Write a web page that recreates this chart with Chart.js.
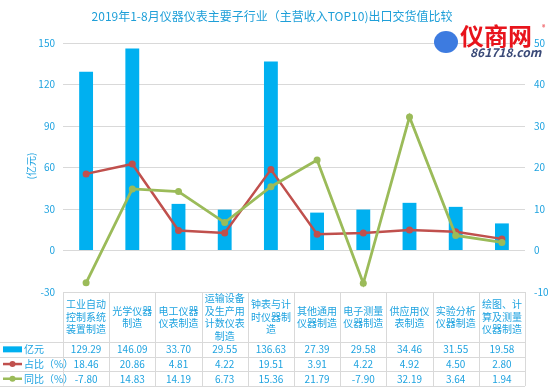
<!DOCTYPE html>
<html>
<head>
<meta charset="utf-8">
<script src="https://cdn.jsdelivr.net/npm/chart.js@4.4.1/dist/chart.umd.min.js"></script>
<style>
    html, body { margin: 0; padding: 0; background: #ffffff; }
    #wrap { width: 550px; height: 389px; position: relative; }
</style>
</head>
<body>
<div id="wrap"><canvas id="exportChart"></canvas></div>
<script>
    // Chart data
    const categories = [
        ['工业自动', '控制系统', '装置制造'],
        ['光学仪器', '制造'],
        ['电工仪器', '仪表制造'],
        ['运输设备', '及生产用', '计数仪表', '制造'],
        ['钟表与计', '时仪器制', '造'],
        ['其他通用', '仪器制造'],
        ['电子测量', '仪器制造'],
        ['供应用仪', '表制造'],
        ['实验分析', '仪器制造'],
        ['绘图、计', '算及测量', '仪器制造']
    ];
    const valueYi = [129.29, 146.09, 33.70, 29.55, 136.63, 27.39, 29.58, 34.46, 31.55, 19.58];
    const sharePct = [18.46, 20.86, 4.81, 4.22, 19.51, 3.91, 4.22, 4.92, 4.50, 2.80];
    const yoyPct = [-7.80, 14.83, 14.19, 6.73, 15.36, 21.79, -7.90, 32.19, 3.64, 1.94];
    const seriesNames = ['亿元', '占比（%）', '同比（%）'];

    const BLUE = '#00b0f0';
    const RED = '#c0504d';
    const GREEN = '#9bbb59';
    const TEXT = '#1fa3e0';
    const GRID = '#d9d9d9';
    const FONT = '"Noto Sans CJK SC", "Noto Sans", sans-serif';

    /**
     * Draw title, axis title, logo text and the data table under the plot
     */
    const extrasPlugin = {
        id: 'extras',
        afterDraw(chart) {
            const ctx = chart.ctx;
            const xs = chart.scales.x;
            const area = chart.chartArea;
            const half = (xs.getPixelForValue(1) - xs.getPixelForValue(0)) / 2;
            const tableTop = area.bottom;
            const headBottom = tableTop + 50;
            const rowH = 14.7;

            ctx.save();

            // Title
            ctx.fillStyle = '#1e9fd8';
            ctx.font = '12px ' + FONT;
            ctx.textAlign = 'center';
            ctx.textBaseline = 'middle';
            ctx.fillText('2019年1-8月仪器仪表主要子行业（主营收入TOP10)出口交货值比较', 272, 16);

            // Left axis title
            ctx.save();
            ctx.translate(31, 166);
            ctx.rotate(-Math.PI / 2);
            ctx.fillStyle = TEXT;
            ctx.font = '10px ' + FONT;
            ctx.fillText('(亿元)', 0, 0);
            ctx.restore();

            // Logo text
            ctx.textAlign = 'left';
            ctx.fillStyle = '#3d7be0';
            ctx.beginPath();
            ctx.ellipse(446, 42, 12, 11, 0, 0, Math.PI * 2);
            ctx.fill();
            ctx.fillStyle = '#e8141c';
            ctx.font = 'bold 24px ' + FONT;
            ctx.fillText('仪商网', 460, 36);
            ctx.font = '7px ' + FONT;
            ctx.fillText('®', 542, 27);
            ctx.fillStyle = '#3a4a78';
            ctx.font = 'italic bold 12px ' + FONT;
            ctx.fillText('861718.com', 470, 52);

            // Table grid
            ctx.strokeStyle = GRID;
            ctx.lineWidth = 1;
            ctx.beginPath();
            for (let i = 0; i <= categories.length; i++) {
                const x = Math.round(xs.getPixelForValue(i) - half) + 0.5;
                ctx.moveTo(x, tableTop);
                ctx.lineTo(x, headBottom + rowH * 3);
            }
            ctx.moveTo(area.left, tableTop + 0.5);
            ctx.lineTo(area.right, tableTop + 0.5);
            for (let r = 0; r <= 3; r++) {
                const y = Math.round(headBottom + rowH * r) + 0.5;
                ctx.moveTo(0, y);
                ctx.lineTo(area.right, y);
            }
            ctx.stroke();

            // Header labels
            ctx.fillStyle = TEXT;
            ctx.font = '10px ' + FONT;
            ctx.textAlign = 'center';
            const lineH = 12.5;
            categories.forEach((lines, i) => {
                const cx = xs.getPixelForValue(i);
                const midY = (tableTop + headBottom) / 2;
                const y0 = midY - (lines.length - 1) * lineH / 2;
                lines.forEach((t, k) => ctx.fillText(t, cx, y0 + k * lineH));
            });

            // Value rows
            const rows = [valueYi, sharePct, yoyPct];
            rows.forEach((vals, r) => {
                const cy = headBottom + rowH * r + rowH / 2;
                vals.forEach((v, i) => {
                    ctx.fillText(v.toFixed(2), xs.getPixelForValue(i), cy);
                });
            });

            // Legend keys in the first column
            ctx.textAlign = 'left';
            rows.forEach((vals, r) => {
                const cy = headBottom + rowH * r + rowH / 2;
                if (r === 0) {
                    ctx.fillStyle = BLUE;
                    ctx.fillRect(3, cy - 3, 19, 6);
                } else {
                    const col = r === 1 ? RED : GREEN;
                    ctx.strokeStyle = col;
                    ctx.lineWidth = 2.5;
                    ctx.beginPath();
                    ctx.moveTo(3, cy);
                    ctx.lineTo(22, cy);
                    ctx.stroke();
                    ctx.fillStyle = col;
                    ctx.beginPath();
                    ctx.arc(12.5, cy, 3, 0, Math.PI * 2);
                    ctx.fill();
                }
                ctx.fillStyle = TEXT;
                ctx.fillText(seriesNames[r], 24, cy);
            });

            ctx.restore();
        }
    };

    const ctx = document.getElementById('exportChart').getContext('2d');
    const exportChart = new Chart(ctx, {
        type: 'bar',
        data: {
            labels: categories.map(c => c.join('')),
            datasets: [{
                type: 'line',
                label: seriesNames[1],
                data: sharePct,
                yAxisID: 'y2',
                borderColor: RED,
                backgroundColor: RED,
                borderWidth: 2.5,
                pointRadius: 3.5,
                pointBackgroundColor: RED,
                pointBorderWidth: 0,
                tension: 0,
                order: 1
            }, {
                type: 'line',
                label: seriesNames[2],
                data: yoyPct,
                yAxisID: 'y2',
                borderColor: GREEN,
                backgroundColor: GREEN,
                borderWidth: 2.8,
                pointRadius: 3.5,
                pointBackgroundColor: GREEN,
                pointBorderWidth: 0,
                tension: 0,
                order: 0
            }, {
                label: seriesNames[0],
                data: valueYi,
                yAxisID: 'y',
                backgroundColor: BLUE,
                barPercentage: 0.6,
                categoryPercentage: 0.5,
                order: 2
            }]
        },
        options: {
            responsive: true,
            maintainAspectRatio: false,
            animation: false,
            layout: {
                padding: { top: 43, bottom: 97, left: 0, right: 0 }
            },
            plugins: {
                legend: { display: false },
                title: { display: false },
                tooltip: { enabled: false }
            },
            scales: {
                x: {
                    display: false
                },
                y: {
                    position: 'left',
                    min: -30,
                    max: 150,
                    ticks: {
                        stepSize: 30,
                        color: TEXT,
                        font: { size: 10, family: FONT },
                        padding: 8
                    },
                    grid: {
                        color: GRID,
                        drawTicks: false
                    },
                    border: { display: false },
                    afterFit: function (scale) { scale.width = 63; }
                },
                y2: {
                    position: 'right',
                    min: -10,
                    max: 50,
                    ticks: {
                        stepSize: 10,
                        color: TEXT,
                        font: { size: 10, family: FONT },
                        padding: 9
                    },
                    grid: { display: false, drawTicks: false },
                    border: { display: false },
                    afterFit: function (scale) { scale.width = 25; }
                }
            }
        },
        plugins: [extrasPlugin]
    });
</script>
</body>
</html>
